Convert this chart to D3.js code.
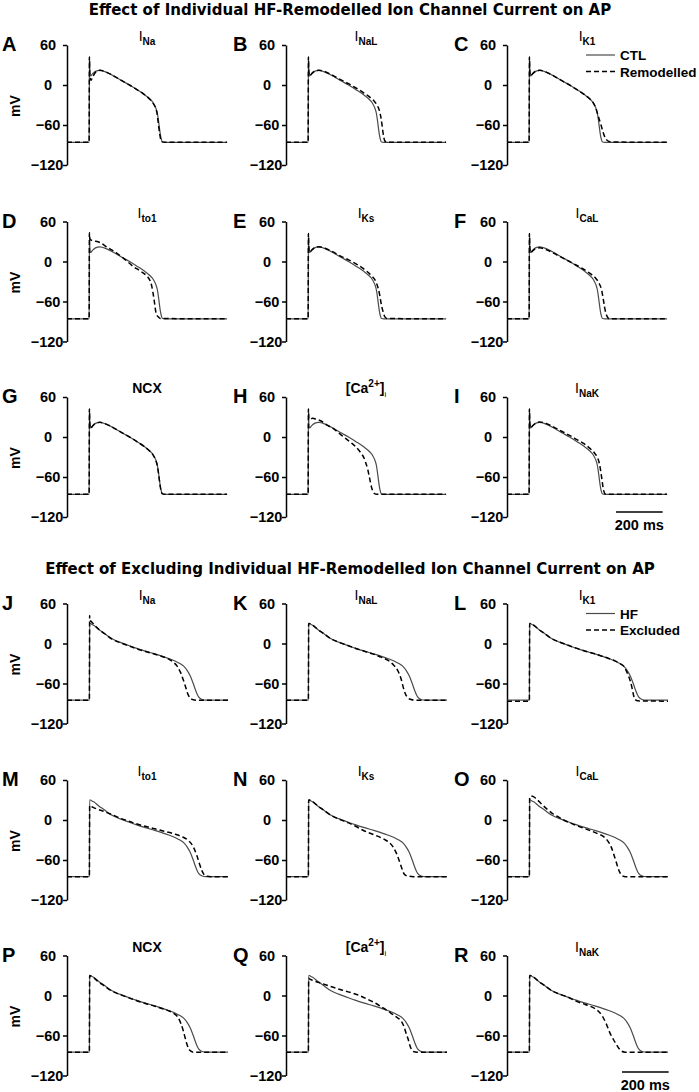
<!DOCTYPE html>
<html>
<head>
<meta charset="utf-8">
<script src="https://cdn.jsdelivr.net/npm/d3@7"></script>
<style>
    body { margin: 0; background: #fff; }
    svg text { font-family: "Liberation Sans", Arial, sans-serif; font-weight: bold; fill: #000; }
    .title { font-family: "DejaVu Sans", Verdana, sans-serif; font-size: 15px; }
</style>
</head>
<body>
<svg id="chart" width="699" height="1092"></svg>
<script>
// ---- data: [time (ms), membrane potential (mV)] ----

// control AP, the solid trace in panels A-I
const ctl = [[0,-86],[95,-86],[96,42],[98,20],[101,13.5],[110,17],[122,20.5],[141,22],[170,19],[213,11],[240,5.5],[268,0],[300,-7],[330,-14],[355,-21],[370,-27],[380,-34],[387,-42],[392,-53],[396,-64],[400,-74],[404,-81],[408,-85],[420,-86],[686,-86]];

// single current remodelled (dashed, panels A-I)
const remNa = [[0,-86],[95,-86],[96,42],[98,14],[103,7],[110,12],[122,19],[141,22],[170,19],[213,11],[240,5.5],[268,0],[300,-7],[330,-14],[355,-21.5],[370,-28],[380,-35],[386,-43],[390,-54],[394,-65],[398,-75],[402,-82],[406,-85],[420,-86],[686,-86]];
const remNaL = [[0,-86],[95,-86],[96,42],[98,20],[101,13.5],[110,17],[122,20.5],[141,22],[170,19.5],[213,12],[240,7],[268,2],[300,-4.5],[330,-11],[355,-17],[375,-23],[390,-30],[400,-38],[407,-49],[412,-61],[416,-72],[420,-80],[425,-84.5],[435,-86],[686,-86]];
const remK1 = [[0,-86],[95,-86],[96,42],[98,20],[101,13.5],[110,17],[122,20.5],[141,22],[170,19],[213,11],[240,5.5],[268,0],[300,-7],[330,-14],[355,-21],[370,-27],[380,-34],[387,-42],[395,-51],[403,-60],[410,-69],[418,-77],[426,-82],[436,-84.5],[450,-85.5],[686,-86]];
const remTo1 = [[0,-86],[95,-86],[96,43],[98,34],[104,32],[115,31],[141,28.5],[170,22],[213,12.5],[240,5.5],[284,-7.5],[310,-13.5],[341,-21.5],[355,-28],[363,-36.5],[368,-46],[373,-56.5],[377,-67],[381,-76.5],[386,-81],[391,-83],[400,-85.5],[686,-86]];
const remKs = [[0,-86],[95,-86],[96,42],[98,20],[101,13.5],[110,17],[122,20.5],[141,22],[170,19.5],[193,16],[240,7],[268,2.5],[307,-5],[340,-13],[367,-21.5],[385,-30],[396,-41.5],[402,-51],[407,-61.5],[412,-70],[417,-76.5],[424,-83],[435,-85.5],[686,-86]];
const remCaL = [[0,-86],[95,-86],[96,42],[98,20],[101,13],[110,16],[122,19],[141,20.5],[170,17.5],[213,10],[240,5],[268,0],[300,-6],[330,-12],[360,-19],[380,-25],[395,-33],[405,-42],[412,-55],[418,-68],[424,-78],[430,-83],[438,-86],[686,-86]];
const remNCX = [[0,-86],[95,-86],[96,42],[98,19],[101,13],[110,16.5],[122,20.5],[141,22],[170,19],[213,11],[240,5.5],[268,0],[300,-7],[330,-14],[355,-21.5],[370,-27.5],[380,-34.5],[387,-43],[392,-54],[396,-65],[400,-75],[404,-82],[408,-85],[420,-86],[686,-86]];
const remCai = [[0,-86],[95,-86],[96,42],[98,28],[103,26],[113,28],[122,27.5],[150,24],[180,17],[207,11.5],[240,2],[279,-8.5],[300,-15],[321,-24],[335,-32],[343,-40],[350,-48],[356,-58],[362,-68],[367,-76],[372,-81],[378,-84.5],[390,-86],[686,-86]];
const remNaK = [[0,-86],[95,-86],[96,42],[98,20],[101,13.5],[110,17],[122,20.5],[141,22.5],[170,20],[213,12.5],[240,7.5],[268,2.5],[300,-4],[330,-10],[355,-17],[375,-24],[388,-31],[396,-40],[402,-52],[407,-64],[411,-74],[415,-81],[419,-85],[430,-86],[686,-86]];

// heart failure AP, the solid trace in panels J-R
const hf = [[0,-85],[96,-85],[97,30],[101,30],[107,28.5],[116,27],[136,21],[157,16],[193,7],[226,2],[265,-3],[296,-7],[336,-11.5],[376,-15.5],[407,-19],[436,-22.5],[465,-26.5],[486,-30.5],[500,-34],[516,-41],[529,-49],[541,-60],[550,-69],[558,-76],[565,-80.5],[579,-84],[596,-85],[690,-85]];

// single remodelled current excluded from HF (dashed, panels J-R)
const excNa = [[0,-85],[96,-85],[97,42],[99,35],[104,33],[113,29.5],[128,24],[148,18],[160,15],[193,6.5],[226,1.5],[265,-3.5],[296,-7.5],[336,-12],[376,-16],[407,-19.5],[436,-23.5],[456,-28],[472,-34],[486,-43],[499,-55],[509,-66],[517,-75],[526,-81],[541,-84.5],[556,-85],[690,-85]];
const excNaL = [[0,-85],[96,-85],[97,30],[101,30],[107,28.5],[116,27],[136,21],[157,16],[193,7],[226,2],[265,-3],[296,-7],[336,-11.5],[376,-16],[407,-20.5],[436,-25],[460,-32],[481,-42],[494,-54],[502,-65],[511,-75],[521,-81],[536,-84],[551,-85],[690,-85]];
const excK1 = [[0,-86.5],[96,-86.5],[97,30],[101,30],[107,28.5],[116,27],[136,21],[157,16],[193,7],[226,2],[265,-3],[296,-7],[336,-11.5],[376,-15.5],[407,-19],[436,-22.5],[465,-26.5],[486,-30.5],[500,-34],[510,-40],[520,-48],[529,-57],[536,-67],[542,-77],[548,-83.5],[560,-86],[690,-86.5]];
const excTo1 = [[0,-85],[96,-85],[97,22],[101,21],[112,19],[132,16],[154,13.5],[193,8],[226,3],[265,-2],[296,-5.5],[336,-9.5],[376,-13],[407,-16],[436,-18.5],[465,-21.5],[496,-25.5],[521,-31],[541,-40],[556,-53],[568,-66],[578,-76],[588,-82],[601,-84.5],[616,-85],[690,-85]];
const excKs = [[0,-85],[96,-85],[97,30],[101,30],[107,28.5],[116,27],[136,21],[157,16],[193,7],[226,1.5],[265,-4],[296,-9],[336,-16.5],[376,-22],[407,-26.5],[426,-30],[443,-34],[458,-40],[472,-49],[483,-59],[493,-69],[501,-77],[507,-81.5],[516,-83.5],[529,-84.5],[546,-85],[690,-85]];
const excCaL = [[0,-85],[96,-85],[97,33],[103,36],[113,35],[128,31],[148,24],[173,16],[198,9],[223,4],[243,0],[278,-5.5],[318,-11],[358,-16],[388,-20.5],[414,-25],[433,-32],[446,-40],[458,-52],[468,-63],[476,-72],[484,-79],[493,-83.5],[508,-85],[690,-85]];
const excNCX = [[0,-85],[96,-85],[97,30],[101,29.5],[107,28],[116,26],[136,20],[157,15],[193,6.5],[226,1.5],[265,-3.5],[296,-7.5],[336,-12],[376,-16],[407,-19.5],[436,-23],[460,-27.5],[476,-33],[488,-42],[498,-52.5],[506,-63],[514,-73],[522,-80],[531,-83.5],[541,-85],[690,-85]];
const excCai = [[0,-85],[96,-85],[97,26],[101,25],[112,23],[146,19],[196,13],[246,7.5],[303,1.5],[346,-5],[386,-12],[418,-19],[436,-23],[456,-28],[476,-33],[495,-39],[506,-47],[514,-56],[523,-65],[531,-75],[538,-81],[546,-84],[561,-85],[690,-85]];
const excNaK = [[0,-85],[96,-85],[97,30],[101,30],[107,28.5],[116,27],[136,21],[157,16],[193,7],[226,2],[265,-3],[296,-8.5],[336,-13.5],[376,-19.5],[396,-25],[412,-33],[426,-43],[441,-56],[456,-66],[470,-74],[481,-80],[491,-83.5],[506,-85],[690,-85]];

// labels
const sectionTitles = [
    "Effect of Individual HF-Remodelled Ion Channel Current on AP",
    "Effect of Excluding Individual HF-Remodelled Ion Channel Current on AP"
];
const letters = [
    ["A", "B", "C", "D", "E", "F", "G", "H", "I"],
    ["J", "K", "L", "M", "N", "O", "P", "Q", "R"]
];
// panel headings: main text + subscript ("ca" = the [Ca2+]i special case)
const currents = [
    ["I", "Na"], ["I", "NaL"], ["I", "K1"],
    ["I", "to1"], ["I", "Ks"], ["I", "CaL"],
    ["NCX", ""], ["ca", ""], ["I", "NaK"]
];
const legendNames = [["CTL", "Remodelled"], ["HF", "Excluded"]];
const yTicks = [60, 0, -60, -120];
const scaleBarMs = 200;

const solidSeries = [ctl, hf];
const dashedSeries = [
    [remNa, remNaL, remK1, remTo1, remKs, remCaL, remNCX, remCai, remNaK],
    [excNa, excNaL, excK1, excTo1, excKs, excCaL, excNCX, excCai, excNaK]
];

// ---- layout ----
const colX = [67, 286, 507];
const rowY = [[45, 221.5, 397], [603.5, 780, 955.5]];
const titleY = [15, 574];
const scaleBar = [{x: 616, y: 512}, {x: 622, y: 1072}];

const svg = d3.select("#chart");

const x = d3.scaleLinear().domain([0, 690]).range([0, 161]);
const y = d3.scaleLinear().domain([-120, 60]).range([120, 0]);

const line = d3.line()
    .x(d => x(d[0]))
    .y(d => y(d[1]))
    .curve(d3.curveMonotoneX);

/**
 * Writes the panel heading, with subscripts (and the [Ca2+]i case).
 */
function heading(g, cur) {
    let t = g.append("text")
        .attr("x", 80)
        .attr("y", -4)
        .attr("text-anchor", "middle")
        .style("font-size", "14px");

    if (cur[0] == "ca") {
        t.append("tspan").text("[Ca");
        t.append("tspan").attr("dy", -6).style("font-size", "10px").text("2+");
        t.append("tspan").attr("dy", 6).text("]");
        t.append("tspan").attr("dy", 4).style("font-size", "8px").style("font-weight", "normal").text("i");
    } else {
        t.append("tspan").style("font-weight", cur[1] ? "normal" : "bold").text(cur[0]);
        if (cur[1]) t.append("tspan").attr("dy", 4).style("font-size", "10px").text(cur[1]);
    }
}

/**
 * Draws one AP panel: axis, two traces, labels.
 */
function drawPanel(s, i) {
    let c = i % 3, r = Math.floor(i / 3);
    let g = svg.append("g")
        .attr("transform", "translate(" + colX[c] + "," + rowY[s][r] + ")");

    // y axis
    let ax = g.append("g")
        .call(d3.axisLeft(y).tickValues(yTicks).tickSize(4).tickSizeOuter(0)
            .tickFormat(d3.format("d")));
    ax.select(".domain").attr("stroke", "#000").attr("stroke-width", 1.5);
    ax.selectAll(".tick line").attr("stroke", "#000").attr("stroke-width", 1.5);
    ax.selectAll(".tick text")
        .attr("x", -19)
        .attr("text-anchor", "middle")
        .style("font-size", "14.5px")
        .style("font-family", "'Liberation Sans', Arial, sans-serif")
        .style("font-weight", "bold")
        .attr("fill", "#000");
    ax.selectAll(".tick").filter(d => d == -120).select("text").attr("x", -20);

    // traces
    g.append("path")
        .attr("d", line(solidSeries[s]))
        .attr("fill", "none")
        .attr("stroke", "#4a4a4a")
        .attr("stroke-width", 1.2);
    g.append("path")
        .attr("d", line(dashedSeries[s][i]))
        .attr("fill", "none")
        .attr("stroke", "#000")
        .attr("stroke-width", 1.5)
        .attr("stroke-dasharray", "5,3");

    heading(g, currents[i]);

    // panel letter
    svg.append("text")
        .attr("x", c == 0 ? 2 : colX[c] - 53)
        .attr("y", rowY[s][r] + 6)
        .style("font-size", "20px")
        .text(letters[s][i]);

    if (c == 0) {
        g.append("text")
            .attr("transform", "translate(-47," + 61 + ") rotate(-90)")
            .attr("text-anchor", "middle")
            .style("font-size", "14px")
            .text("mV");
    }

    // legend in the top-right panel
    if (i == 2) {
        legendNames[s].forEach(function (name, k) {
            g.append("line")
                .attr("x1", 79).attr("x2", 108)
                .attr("y1", 10 + k * 16.5).attr("y2", 10 + k * 16.5)
                .attr("stroke", k == 0 ? "#4a4a4a" : "#000")
                .attr("stroke-width", k == 0 ? 1.2 : 1.5)
                .attr("stroke-dasharray", k == 0 ? null : "5,3");
            g.append("text")
                .attr("x", 113)
                .attr("y", 15 + k * 16.5)
                .style("font-size", "13.5px")
                .text(name);
        });
    }
}

[0, 1].forEach(function (s) {
    svg.append("text")
        .attr("class", "title")
        .attr("x", 350)
        .attr("y", titleY[s])
        .attr("text-anchor", "middle")
        .text(sectionTitles[s]);

    for (let i = 0; i < 9; i++) drawPanel(s, i);

    // 200 ms scale bar
    let sb = scaleBar[s];
    svg.append("line")
        .attr("x1", sb.x).attr("x2", sb.x + x(scaleBarMs))
        .attr("y1", sb.y).attr("y2", sb.y)
        .attr("stroke", "#000").attr("stroke-width", 1.5);
    svg.append("text")
        .attr("x", sb.x + x(scaleBarMs) / 2)
        .attr("y", sb.y + 18)
        .attr("text-anchor", "middle")
        .style("font-size", "14.5px")
        .text(scaleBarMs + " ms");
});
</script>
</body>
</html>
